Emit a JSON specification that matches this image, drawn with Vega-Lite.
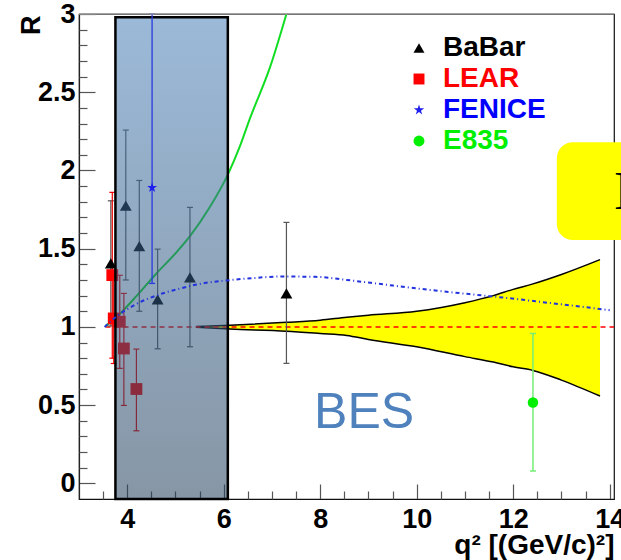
{
  "$schema": "https://vega.github.io/schema/vega-lite/v6.json",
  "width": 535,
  "height": 485,
  "autosize": "none",
  "padding": {"left": 79, "top": 14, "right": 7, "bottom": 61},
  "background": "white",
  "view": {"stroke": "#111111", "strokeWidth": 1.2},
  "config": {"font": "Liberation Sans"},
  "resolve": {"axis": {"x": "independent", "y": "independent"}},
  "datasets": {
    "pts": [
      {"exp": "BaBar", "x": 3.66, "y": 1.406, "lo": 1.006, "hi": 1.806},
      {"exp": "BaBar", "x": 3.97, "y": 1.775, "lo": 1.3, "hi": 2.258},
      {"exp": "BaBar", "x": 4.25, "y": 1.516, "lo": 1.1, "hi": 1.936},
      {"exp": "BaBar", "x": 4.63, "y": 1.176, "lo": 0.86, "hi": 1.497},
      {"exp": "BaBar", "x": 5.3, "y": 1.316, "lo": 0.873, "hi": 1.764},
      {"exp": "BaBar", "x": 7.3, "y": 1.214, "lo": 0.767, "hi": 1.668},
      {"exp": "LEAR", "x": 3.69, "y": 1.331, "lo": 0.8, "hi": 1.86},
      {"exp": "LEAR", "x": 3.72, "y": 1.054, "lo": 0.766, "hi": 1.34},
      {"exp": "LEAR", "x": 3.845, "y": 1.033, "lo": 0.735, "hi": 1.33},
      {"exp": "LEAR", "x": 3.93, "y": 0.862, "lo": 0.498, "hi": 1.214},
      {"exp": "LEAR", "x": 4.19, "y": 0.603, "lo": 0.336, "hi": 0.858},
      {"exp": "FENICE", "x": 4.515, "y": 1.89, "lo": 1.278, "hi": 3.0},
      {"exp": "E835", "x": 12.41, "y": 0.517, "lo": 0.079, "hi": 0.958}
    ],
    "band": [
      {"x": 5.43, "lo": 0.997, "hi": 1.003},
      {"x": 6.13, "lo": 0.986, "hi": 1.011},
      {"x": 7.3, "lo": 0.973, "hi": 1.029},
      {"x": 8.0, "lo": 0.958, "hi": 1.043},
      {"x": 8.55, "lo": 0.945, "hi": 1.062},
      {"x": 9.0, "lo": 0.92, "hi": 1.075},
      {"x": 10.0, "lo": 0.873, "hi": 1.1},
      {"x": 11.0, "lo": 0.81, "hi": 1.155},
      {"x": 11.59, "lo": 0.775, "hi": 1.2},
      {"x": 12.0, "lo": 0.745, "hi": 1.24},
      {"x": 12.41, "lo": 0.722, "hi": 1.275},
      {"x": 13.0, "lo": 0.66, "hi": 1.335},
      {"x": 13.8, "lo": 0.558, "hi": 1.43}
    ],
    "green": [
      {"x": 3.55, "y": 1.005},
      {"x": 3.8, "y": 1.07},
      {"x": 4.2, "y": 1.2},
      {"x": 4.6, "y": 1.34},
      {"x": 5.0, "y": 1.47},
      {"x": 5.3, "y": 1.58},
      {"x": 5.7, "y": 1.76},
      {"x": 6.08, "y": 1.97},
      {"x": 6.33, "y": 2.15},
      {"x": 6.54, "y": 2.33},
      {"x": 6.96, "y": 2.66},
      {"x": 7.3, "y": 3.0}
    ],
    "blue": [
      {"x": 3.53, "y": 1.0},
      {"x": 3.75, "y": 1.06},
      {"x": 4.15, "y": 1.14},
      {"x": 4.6, "y": 1.2},
      {"x": 5.09, "y": 1.245},
      {"x": 5.6, "y": 1.28},
      {"x": 6.0, "y": 1.295},
      {"x": 6.6, "y": 1.312},
      {"x": 7.2, "y": 1.322},
      {"x": 7.9, "y": 1.32},
      {"x": 8.55, "y": 1.3},
      {"x": 9.3, "y": 1.272},
      {"x": 10.0, "y": 1.246},
      {"x": 10.7, "y": 1.222},
      {"x": 11.4, "y": 1.2},
      {"x": 12.1, "y": 1.177},
      {"x": 12.7, "y": 1.155},
      {"x": 13.4, "y": 1.13},
      {"x": 14.0, "y": 1.107}
    ],
    "ref": [{"x": 3.55, "x2": 14.09, "y": 1}],
    "top": [{"x": 3.0, "x2": 14.09, "y": 3.0}],
    "box": [{"x": 3.755, "x2": 6.085, "y": -0.1, "y2": 2.98}],
    "ybox": [{"x": 12.905, "x2": 14.6, "y": 1.555, "y2": 2.18}],
    "bes": [{"x": 8.91, "y": 0.351, "t": "BES"}],
    "letter": [{"x": 14.095, "y": 1.753, "t": "E"}]
  },
  "layer": [
    {
      "data": {"name": "band"},
      "mark": {"type": "area", "color": "#ffff00", "interpolate": "monotone"},
      "encoding": {
        "x": {
          "field": "x", "type": "quantitative",
          "scale": {"domain": [3, 14.09], "nice": false, "zero": false},
          "axis": {
            "orient": "bottom",
            "values": [4, 6, 8, 10, 12, 14],
            "tickSize": -15,
            "format": "d",
            "labelFont": "Liberation Sans", "labelFontWeight": "bold", "labelFontSize": 27, "labelColor": "black",
            "labelPadding": 22, "labelFlush": false, "labelOverlap": false,
            "tickColor": "#555555", "tickWidth": 1.2, "domainColor": "#111111", "domainWidth": 1.2, "grid": false,
            "title": "q² [(GeV/c)²]", "titleFont": "Liberation Sans", "titleFontWeight": "bold", "titleFontSize": 28,
            "titleColor": "black", "titleX": 535, "titleY": 54, "titleAlign": "right", "titleBaseline": "alphabetic", "titleAnchor": "end"
          }
        },
        "y": {
          "field": "lo", "type": "quantitative",
          "scale": {"domain": [-0.1, 3], "nice": false, "zero": false},
          "axis": {
            "orient": "left",
            "values": [0, 0.5, 1, 1.5, 2, 2.5, 3],
            "tickSize": -16,
            "format": "~g",
            "labelFont": "Liberation Sans", "labelFontWeight": "bold", "labelFontSize": 27, "labelColor": "black",
            "labelPadding": 20, "labelFlush": false, "labelOverlap": false,
            "tickColor": "#555555", "tickWidth": 1.2, "domainColor": "#222222", "domainWidth": 1.2, "grid": false,
            "title": "R", "titleFont": "Liberation Sans", "titleFontWeight": "bold", "titleFontSize": 27, "titleColor": "black",
            "titleAngle": -90, "titleX": -40, "titleY": 1, "titleAlign": "right", "titleBaseline": "alphabetic"
          }
        },
        "y2": {"field": "hi"}
      }
    },
    {
      "data": {"name": "band"},
      "mark": {"type": "line", "color": "black", "strokeWidth": 1.5, "interpolate": "monotone"},
      "encoding": {
        "x": {
          "field": "x", "type": "quantitative",
          "axis": {
            "orient": "bottom",
            "values": [3.5, 4.5, 5, 5.5, 6.5, 7, 7.5, 8.5, 9, 9.5, 10.5, 11, 11.5, 12.5, 13, 13.5],
            "tickSize": -8, "labels": false, "domain": false, "grid": false, "title": null,
            "tickColor": "#555555", "tickWidth": 1.2
          }
        },
        "y": {
          "field": "hi", "type": "quantitative",
          "axis": {
            "orient": "left",
            "values": [0.1, 0.2, 0.3, 0.4, 0.6, 0.7, 0.8, 0.9, 1.1, 1.2, 1.3, 1.4, 1.6, 1.7, 1.8, 1.9, 2.1, 2.2, 2.3, 2.4, 2.6, 2.7, 2.8, 2.9],
            "tickSize": -8, "labels": false, "domain": false, "grid": false, "title": null,
            "tickColor": "#555555", "tickWidth": 1.2
          }
        }
      }
    },
    {
      "data": {"name": "band"},
      "mark": {"type": "line", "color": "black", "strokeWidth": 1.5, "interpolate": "monotone"},
      "encoding": {
        "x": {"field": "x", "type": "quantitative", "axis": null},
        "y": {"field": "lo", "type": "quantitative", "axis": null}
      }
    },
    {
      "data": {"name": "ref"},
      "mark": {"type": "rule", "color": "#ff0000", "strokeWidth": 1.5, "strokeDash": [5, 4]},
      "encoding": {
        "x": {"field": "x", "type": "quantitative", "axis": null},
        "x2": {"field": "x2"},
        "y": {"field": "y", "type": "quantitative", "axis": null}
      }
    },
    {
      "data": {"name": "green"},
      "mark": {"type": "line", "color": "#11dd22", "strokeWidth": 2, "interpolate": "monotone"},
      "encoding": {
        "x": {"field": "x", "type": "quantitative", "axis": null},
        "y": {"field": "y", "type": "quantitative", "axis": null}
      }
    },
    {
      "data": {"name": "pts"},
      "transform": [{"filter": "datum.exp === 'BaBar'"}],
      "layer": [
        {"mark": {"type": "rule", "color": "#555555", "strokeWidth": 1.2},
         "encoding": {"x": {"field": "x", "type": "quantitative", "axis": null}, "y": {"field": "lo", "type": "quantitative", "axis": null}, "y2": {"field": "hi"}}},
        {"mark": {"type": "rule", "color": "#555555", "strokeWidth": 1.2, "xOffset": -3, "x2Offset": 3},
         "encoding": {"x": {"field": "x", "type": "quantitative", "axis": null}, "x2": {"field": "x"}, "y": {"field": "lo", "type": "quantitative", "axis": null}}},
        {"mark": {"type": "rule", "color": "#555555", "strokeWidth": 1.2, "xOffset": -3, "x2Offset": 3},
         "encoding": {"x": {"field": "x", "type": "quantitative", "axis": null}, "x2": {"field": "x"}, "y": {"field": "hi", "type": "quantitative", "axis": null}}}
      ]
    },
    {
      "data": {"name": "pts"},
      "transform": [{"filter": "datum.exp === 'LEAR'"}],
      "layer": [
        {"mark": {"type": "rule", "color": "#ee0000", "strokeWidth": 1.2},
         "encoding": {"x": {"field": "x", "type": "quantitative", "axis": null}, "y": {"field": "lo", "type": "quantitative", "axis": null}, "y2": {"field": "hi"}}},
        {"mark": {"type": "rule", "color": "#ee0000", "strokeWidth": 1.2, "xOffset": -3, "x2Offset": 3},
         "encoding": {"x": {"field": "x", "type": "quantitative", "axis": null}, "x2": {"field": "x"}, "y": {"field": "lo", "type": "quantitative", "axis": null}}},
        {"mark": {"type": "rule", "color": "#ee0000", "strokeWidth": 1.2, "xOffset": -3, "x2Offset": 3},
         "encoding": {"x": {"field": "x", "type": "quantitative", "axis": null}, "x2": {"field": "x"}, "y": {"field": "hi", "type": "quantitative", "axis": null}}}
      ]
    },
    {
      "data": {"name": "pts"},
      "transform": [{"filter": "datum.exp === 'BaBar' || datum.exp === 'LEAR'"}],
      "mark": {"type": "point", "filled": true, "opacity": 1, "size": 140, "strokeWidth": 0},
      "encoding": {
        "x": {"field": "x", "type": "quantitative", "axis": null},
        "y": {"field": "y", "type": "quantitative", "axis": null},
        "color": {
          "field": "exp", "type": "nominal",
          "scale": {"domain": ["BaBar", "LEAR", "FENICE", "E835"], "range": ["#000000", "#ff0000", "#1f1fee", "#00ee00"]},
          "legend": {
            "title": null, "orient": "none", "legendX": 326, "legendY": 20, "padding": 0,
            "labelFont": "Liberation Sans", "labelFontSize": 28, "labelFontWeight": "bold",
            "symbolSize": 120, "labelOffset": 10, "rowPadding": 3,
            "labelColor": {"expr": "datum.value === 'LEAR' ? '#ff0000' : datum.value === 'FENICE' ? '#0000ff' : datum.value === 'E835' ? '#00ee00' : '#000000'"}
          }
        },
        "shape": {
          "field": "exp", "type": "nominal",
          "scale": {"domain": ["BaBar", "LEAR", "FENICE", "E835"], "range": ["triangle-up", "square", "M0,-1L0.2245,-0.309L0.9511,-0.309L0.3633,0.118L0.5878,0.809L0,0.382L-0.5878,0.809L-0.3633,0.118L-0.9511,-0.309L-0.2245,-0.309Z", "circle"]},
          "legend": {
            "title": null, "orient": "none", "legendX": 326, "legendY": 20, "padding": 0,
            "labelFont": "Liberation Sans", "labelFontSize": 28, "labelFontWeight": "bold",
            "symbolSize": 120, "labelOffset": 10, "rowPadding": 3,
            "labelColor": {"expr": "datum.value === 'LEAR' ? '#ff0000' : datum.value === 'FENICE' ? '#0000ff' : datum.value === 'E835' ? '#00ee00' : '#000000'"}
          }
        }
      }
    },
    {
      "data": {"name": "box"},
      "mark": {
        "type": "rect",
        "fill": {"gradient": "linear", "x1": 0, "y1": 0, "x2": 0, "y2": 1, "stops": [{"offset": 0, "color": "#4980b8"}, {"offset": 1, "color": "#23405b"}]},
        "fillOpacity": 0.55, "stroke": "#000000", "strokeWidth": 2.5
      },
      "encoding": {
        "x": {"field": "x", "type": "quantitative", "axis": null},
        "x2": {"field": "x2"},
        "y": {"field": "y", "type": "quantitative", "axis": null},
        "y2": {"field": "y2"}
      }
    },
    {
      "data": {"name": "blue"},
      "mark": {"type": "line", "color": "#2233dd", "strokeWidth": 2, "strokeDash": [4, 3, 1, 3], "interpolate": "monotone"},
      "encoding": {
        "x": {"field": "x", "type": "quantitative", "axis": null},
        "y": {"field": "y", "type": "quantitative", "axis": null}
      }
    },
    {
      "data": {"name": "pts"},
      "transform": [{"filter": "datum.exp === 'FENICE'"}],
      "layer": [
        {"mark": {"type": "rule", "color": "#2a3ae0", "strokeWidth": 1.3},
         "encoding": {"x": {"field": "x", "type": "quantitative", "axis": null}, "y": {"field": "lo", "type": "quantitative", "axis": null}, "y2": {"field": "hi"}}},
        {"mark": {"type": "rule", "color": "#2a3ae0", "strokeWidth": 1.3, "xOffset": -3, "x2Offset": 3},
         "encoding": {"x": {"field": "x", "type": "quantitative", "axis": null}, "x2": {"field": "x"}, "y": {"field": "lo", "type": "quantitative", "axis": null}}},
        {"mark": {"type": "rule", "color": "#2a3ae0", "strokeWidth": 1.3, "xOffset": -3, "x2Offset": 3},
         "encoding": {"x": {"field": "x", "type": "quantitative", "axis": null}, "x2": {"field": "x"}, "y": {"field": "hi", "type": "quantitative", "axis": null}}}
      ]
    },
    {
      "data": {"name": "pts"},
      "transform": [{"filter": "datum.exp === 'E835'"}],
      "layer": [
        {"mark": {"type": "rule", "color": "#77ee77", "strokeWidth": 1.5},
         "encoding": {"x": {"field": "x", "type": "quantitative", "axis": null}, "y": {"field": "lo", "type": "quantitative", "axis": null}, "y2": {"field": "hi"}}},
        {"mark": {"type": "rule", "color": "#77ee77", "strokeWidth": 1.5, "xOffset": -3, "x2Offset": 3},
         "encoding": {"x": {"field": "x", "type": "quantitative", "axis": null}, "x2": {"field": "x"}, "y": {"field": "lo", "type": "quantitative", "axis": null}}},
        {"mark": {"type": "rule", "color": "#77ee77", "strokeWidth": 1.5, "xOffset": -3, "x2Offset": 3},
         "encoding": {"x": {"field": "x", "type": "quantitative", "axis": null}, "x2": {"field": "x"}, "y": {"field": "hi", "type": "quantitative", "axis": null}}}
      ]
    },
    {
      "data": {"name": "pts"},
      "transform": [{"filter": "datum.exp === 'FENICE' || datum.exp === 'E835'"}],
      "mark": {"type": "point", "filled": true, "opacity": 1, "size": 110, "strokeWidth": 0},
      "encoding": {
        "x": {"field": "x", "type": "quantitative", "axis": null},
        "y": {"field": "y", "type": "quantitative", "axis": null},
        "color": {"field": "exp", "type": "nominal"},
        "shape": {"field": "exp", "type": "nominal"}
      }
    },
    {
      "data": {"name": "top"},
      "mark": {"type": "rule", "color": "#999999", "strokeWidth": 1.5},
      "encoding": {
        "x": {"field": "x", "type": "quantitative", "axis": null},
        "x2": {"field": "x2"},
        "y": {"field": "y", "type": "quantitative", "axis": null}
      }
    },
    {
      "data": {"name": "bes"},
      "mark": {"type": "text", "font": "Liberation Sans", "fontSize": 50, "color": "#4f81bd", "align": "center", "baseline": "alphabetic"},
      "encoding": {
        "x": {"field": "x", "type": "quantitative", "axis": null},
        "y": {"field": "y", "type": "quantitative", "axis": null},
        "text": {"field": "t"}
      }
    },
    {
      "data": {"name": "ybox"},
      "mark": {"type": "rect", "color": "#ffff00", "cornerRadius": 16},
      "encoding": {
        "x": {"field": "x", "type": "quantitative", "axis": null},
        "x2": {"field": "x2"},
        "y": {"field": "y", "type": "quantitative", "axis": null},
        "y2": {"field": "y2"}
      }
    },
    {
      "data": {"name": "letter"},
      "mark": {"type": "text", "font": "Liberation Serif", "fontSize": 54, "color": "#000000", "align": "left", "baseline": "alphabetic"},
      "encoding": {
        "x": {"field": "x", "type": "quantitative", "axis": null},
        "y": {"field": "y", "type": "quantitative", "axis": null},
        "text": {"field": "t"}
      }
    }
  ]
}
